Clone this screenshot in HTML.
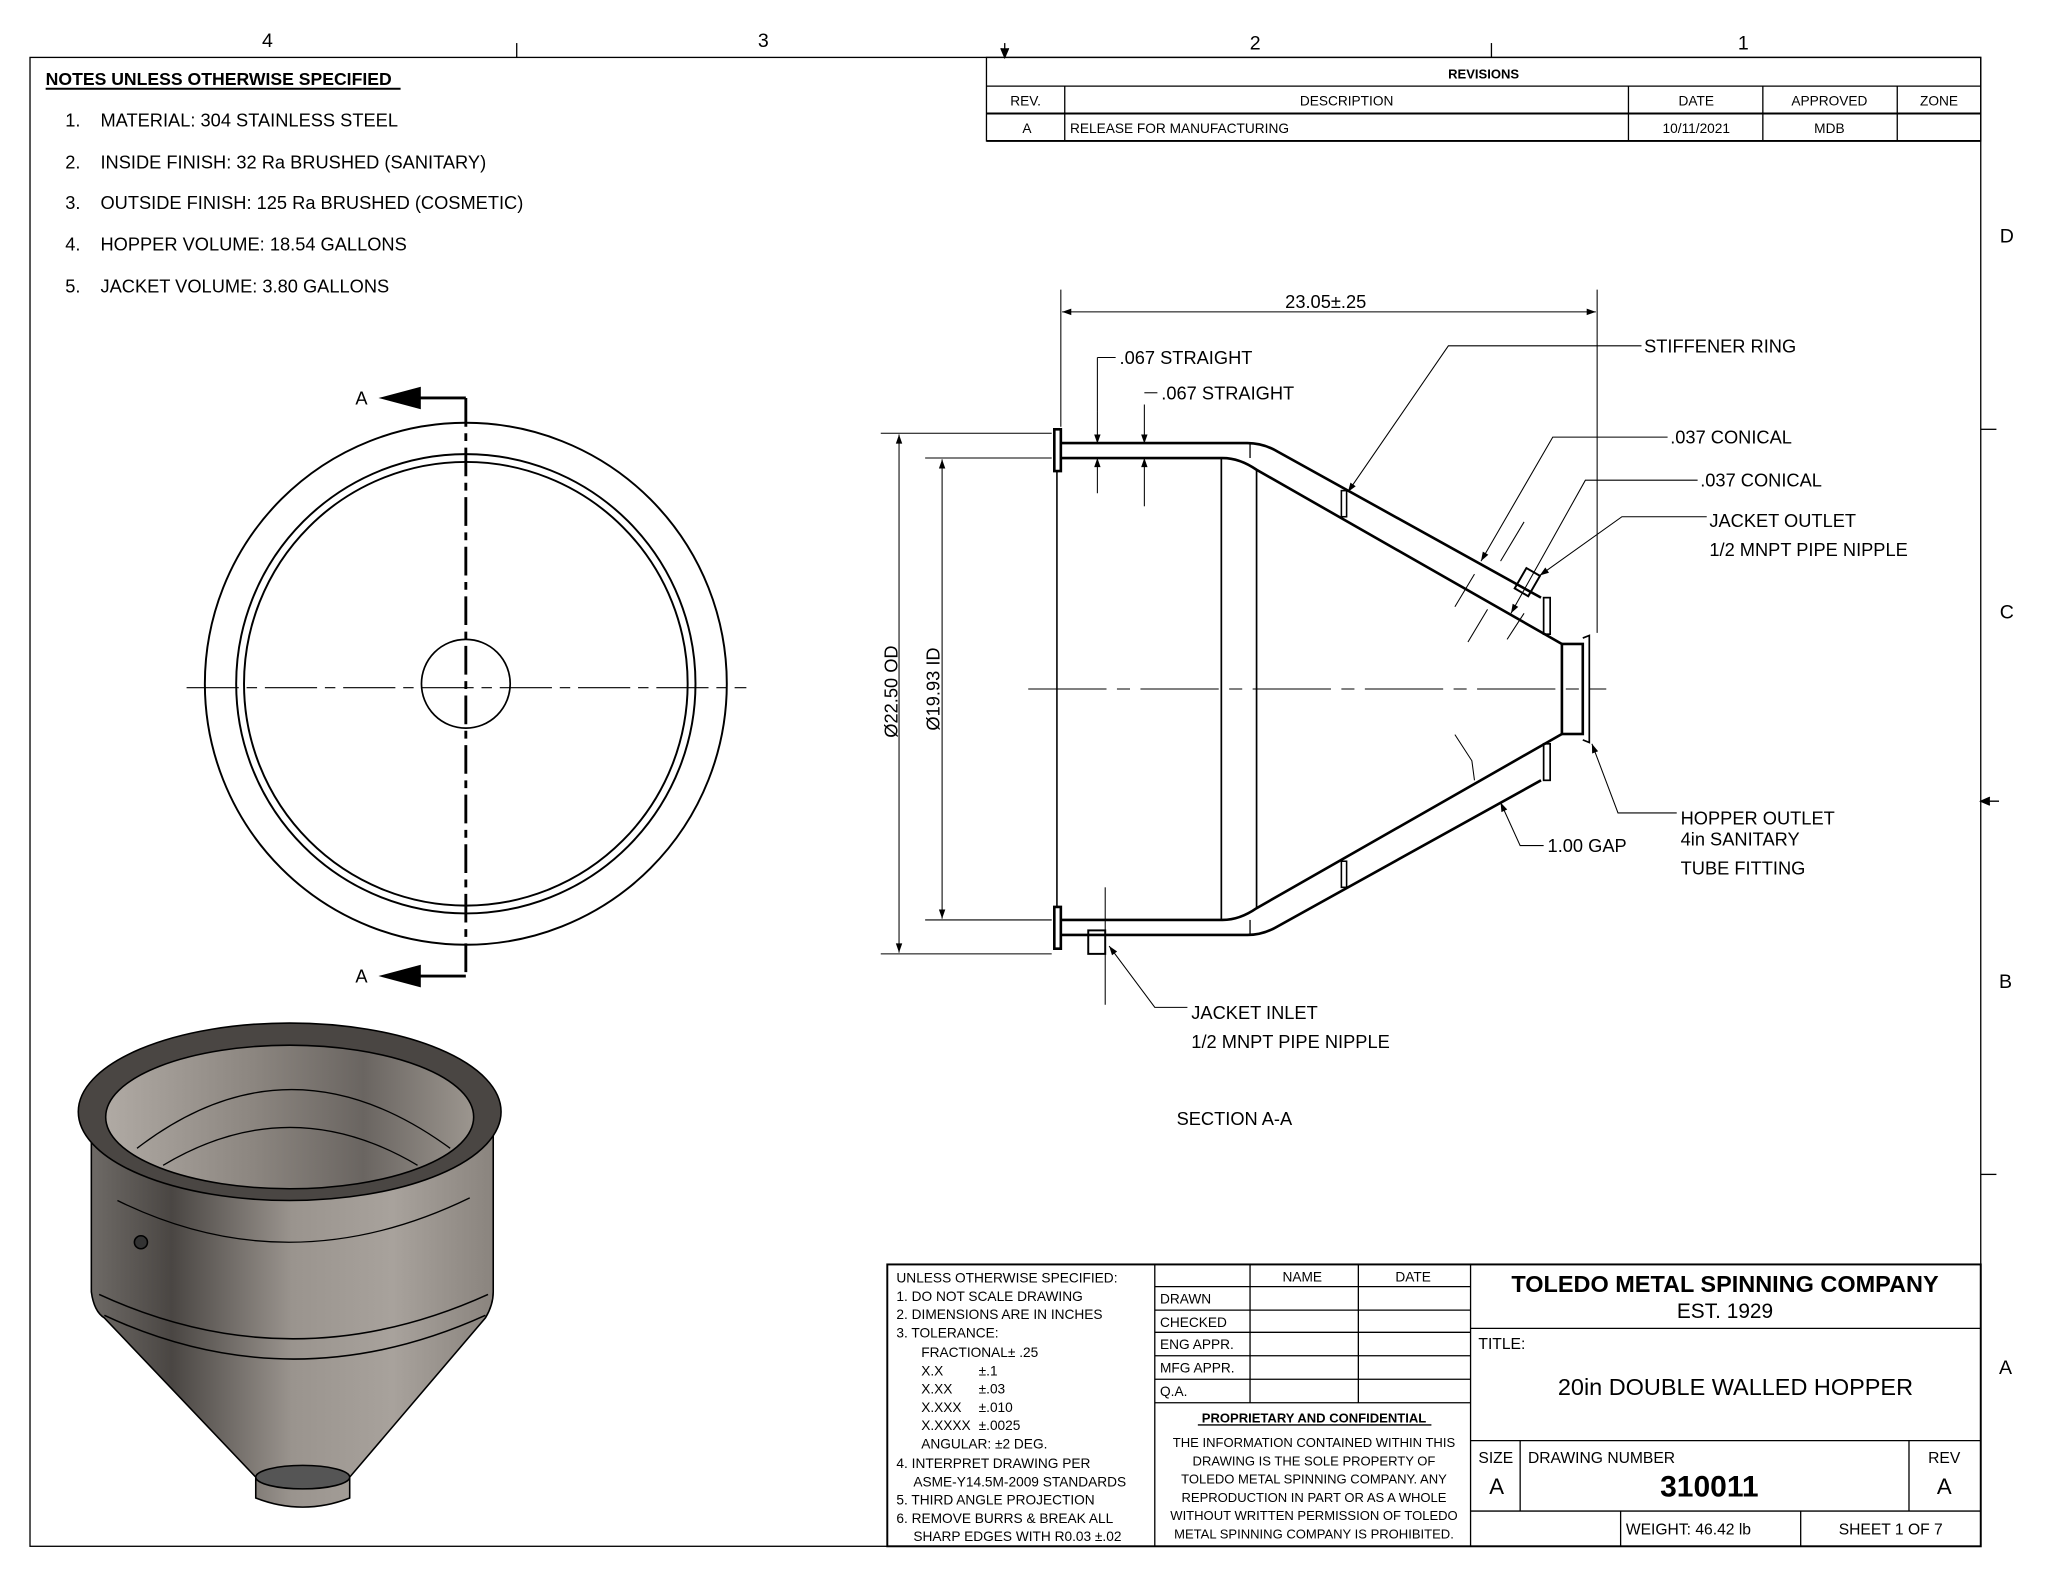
<!DOCTYPE html>
<html><head><meta charset="utf-8"><style>
html,body{margin:0;padding:0;background:#fff;}
svg{display:block;}
text{font-family:"Liberation Sans",sans-serif;fill:#000;}
</style></head><body>
<svg width="2046" height="1581" viewBox="0 0 1568 1211.6" preserveAspectRatio="none" xmlns="http://www.w3.org/2000/svg">
<defs>
<marker id="ar" viewBox="0 0 10 10" refX="10" refY="5" markerWidth="9" markerHeight="7" orient="auto-start-reverse" markerUnits="userSpaceOnUse"><path d="M0,1.5 L10,5 L0,8.5z" fill="#000"/></marker>
<linearGradient id="body" x1="0" x2="1" y1="0" y2="0">
<stop offset="0" stop-color="#6e6a66"/><stop offset="0.2" stop-color="#4a4643"/><stop offset="0.5" stop-color="#9a948e"/><stop offset="0.75" stop-color="#a8a29c"/><stop offset="1" stop-color="#8a847e"/></linearGradient>
<linearGradient id="inner" x1="0" x2="1"><stop offset="0" stop-color="#b0aaa4"/><stop offset="0.4" stop-color="#8c8680"/><stop offset="0.7" stop-color="#6a6561"/><stop offset="1" stop-color="#9c968f"/></linearGradient>
</defs>
<g fill="none" stroke="#000" stroke-width="1">
<rect x="23" y="44" width="1495" height="1141"/>
<line x1="396" y1="33" x2="396" y2="44"/><line x1="1143" y1="33" x2="1143" y2="44"/>
<line x1="770" y1="33" x2="770" y2="44"/><path d="M767,37 L770,44 L773,37" fill="#000"/>
<line x1="1518" y1="329" x2="1530" y2="329"/><line x1="1518" y1="900" x2="1530" y2="900"/>
<line x1="1518" y1="614" x2="1532" y2="614"/><path d="M1525,611 L1518,614 L1525,617" fill="#000"/>
<rect x="756" y="44" width="762" height="64"/>
<line x1="756" y1="66" x2="1518" y2="66"/><line x1="756" y1="87" x2="1518" y2="87" stroke-width="1.5"/>
<line x1="756" y1="108" x2="1518" y2="108" stroke-width="1.5"/>
<line x1="816" y1="66" x2="816" y2="108"/><line x1="1248" y1="66" x2="1248" y2="108"/>
<line x1="1351" y1="66" x2="1351" y2="108"/><line x1="1454" y1="66" x2="1454" y2="108"/>
<line x1="35" y1="68" x2="307" y2="68" stroke-width="1.5"/>
<circle cx="357" cy="524" r="200" stroke-width="1.5"/>
<circle cx="357" cy="524" r="176" stroke-width="1.5"/>
<circle cx="357" cy="524" r="170" stroke-width="1.5"/>
<circle cx="357" cy="524" r="34" stroke-width="1.3"/>
<line x1="143" y1="527" x2="572" y2="527" stroke-dasharray="40,6,8,6" stroke-width="0.8"/>
<line x1="357" y1="305" x2="357" y2="748" stroke-dasharray="22,5,6,5" stroke-width="2.2"/>
<line x1="357" y1="305" x2="310" y2="305" stroke-width="2.2"/><path d="M292,305 L322,297 L322,313z" fill="#000"/>
<line x1="357" y1="748" x2="310" y2="748" stroke-width="2.2"/><path d="M292,748 L322,740 L322,756z" fill="#000"/>
<g stroke-width="2">
<path d="M808,329 L813,329 L813,361 L808,361z"/>
<path d="M808,695 L813,695 L813,727 L808,727z"/>
<line x1="810" y1="361" x2="810" y2="695" stroke-width="1.2"/>
<path d="M813,339.5 L956,339.5 Q968,339.5 979,346 L1181,458"/>
<path d="M813,351 L937,351 Q950,351 963,360 L1197,493.5"/>
<path d="M813,716.5 L956,716.5 Q968,716.5 979,710 L1181,598"/>
<path d="M813,705 L937,705 Q950,705 963,696 L1197,562.5"/>
<rect x="1183" y="458" width="5" height="28" stroke-width="1.3"/>
<rect x="1183" y="570" width="5" height="28" stroke-width="1.3"/>
<rect x="1197" y="493.5" width="16" height="69"/>
<path d="M1213,489 L1218,487 L1218,569 L1213,567" stroke-width="1.3"/>
<rect x="1028" y="376" width="4" height="20" stroke-width="1.2"/>
<rect x="1028" y="660" width="4" height="20" stroke-width="1.2"/>
<rect x="834" y="713" width="13" height="18" stroke-width="1.5"/>
<g transform="translate(1170,447) rotate(30)"><rect x="-6" y="-10" width="12" height="18" stroke-width="1.5"/></g>
</g>
<line x1="936" y1="351" x2="936" y2="705" stroke-width="1.3"/>
<line x1="963" y1="360" x2="963" y2="696" stroke-width="1.3"/>
<line x1="958" y1="340" x2="958" y2="351" stroke-width="1"/>
<line x1="958" y1="705" x2="958" y2="716" stroke-width="1"/>
<line x1="788" y1="528" x2="1231" y2="528" stroke-dasharray="60,8,10,8" stroke-width="0.8"/>
<line x1="675" y1="332" x2="806" y2="332" stroke-width="0.8"/><line x1="675" y1="731" x2="806" y2="731" stroke-width="0.8"/>
<line x1="689" y1="333" x2="689" y2="730" marker-start="url(#ar)" marker-end="url(#ar)" stroke-width="0.8"/>
<line x1="709" y1="351" x2="806" y2="351" stroke-width="0.8"/><line x1="709" y1="705" x2="806" y2="705" stroke-width="0.8"/>
<line x1="722" y1="352" x2="722" y2="704" marker-start="url(#ar)" marker-end="url(#ar)" stroke-width="0.8"/>
<line x1="813" y1="222" x2="813" y2="327" stroke-width="0.8"/><line x1="1224" y1="222" x2="1224" y2="485" stroke-width="0.8"/>
<line x1="814" y1="239" x2="1223" y2="239" marker-start="url(#ar)" marker-end="url(#ar)" stroke-width="0.8"/>
<line x1="841" y1="315" x2="841" y2="340" marker-end="url(#ar)" stroke-width="0.8"/>
<line x1="841" y1="378" x2="841" y2="351" marker-end="url(#ar)" stroke-width="0.8"/>
<line x1="841" y1="274" x2="841" y2="315" stroke-width="0.8"/><line x1="841" y1="274" x2="855" y2="274" stroke-width="0.8"/>
<line x1="877" y1="310" x2="877" y2="340" marker-end="url(#ar)" stroke-width="0.8"/>
<line x1="877" y1="388" x2="877" y2="351" marker-end="url(#ar)" stroke-width="0.8"/>
<line x1="877" y1="301" x2="887" y2="301" stroke-width="0.8"/>
<polyline points="1258,265 1110,265 1033,377" marker-end="url(#ar)" stroke-width="0.8"/>
<polyline points="1278,335 1190,335 1135,430" marker-end="url(#ar)" stroke-width="0.8"/>
<polyline points="1301,368 1215,368 1158,470" marker-end="url(#ar)" stroke-width="0.8"/>
<line x1="1130" y1="440" x2="1115" y2="465" stroke-width="0.8"/><line x1="1168" y1="470" x2="1155" y2="490" stroke-width="0.8"/>
<line x1="1140" y1="467" x2="1125" y2="492" stroke-width="0.8"/><line x1="1168" y1="400" x2="1150" y2="430" stroke-width="0.8"/>
<polyline points="1308,396 1243,396 1180,441" marker-end="url(#ar)" stroke-width="0.8"/>
<polyline points="1285,623 1240,623 1220,570" marker-end="url(#ar)" stroke-width="0.8"/>
<polyline points="1183,648 1165,648 1150,615" marker-end="url(#ar)" stroke-width="0.8"/>
<polyline points="1115,563 1128,583 1130,598" stroke-width="0.8"/>
<polyline points="910,772 885,772 850,725" marker-end="url(#ar)" stroke-width="0.8"/>
<line x1="847" y1="680" x2="847" y2="770" stroke-width="0.8"/>
<rect x="680" y="969" width="838" height="216" stroke-width="1.5"/>
<line x1="885" y1="969" x2="885" y2="1185"/><line x1="1127" y1="969" x2="1127" y2="1185"/>
<line x1="958" y1="969" x2="958" y2="1075"/><line x1="1041" y1="969" x2="1041" y2="1075"/>
<line x1="885" y1="986" x2="1127" y2="986"/><line x1="885" y1="1004" x2="1127" y2="1004"/>
<line x1="885" y1="1021" x2="1127" y2="1021"/><line x1="885" y1="1039" x2="1127" y2="1039"/>
<line x1="885" y1="1057" x2="1127" y2="1057"/><line x1="885" y1="1075" x2="1127" y2="1075"/>
<line x1="1127" y1="1018" x2="1518" y2="1018"/><line x1="1127" y1="1104" x2="1518" y2="1104"/>
<line x1="1127" y1="1158" x2="1518" y2="1158"/>
<line x1="1165" y1="1104" x2="1165" y2="1158"/><line x1="1463" y1="1104" x2="1463" y2="1158"/>
<line x1="1242" y1="1158" x2="1242" y2="1185"/><line x1="1380" y1="1158" x2="1380" y2="1185"/>
<line x1="918" y1="1092" x2="1097" y2="1092"/>
</g>
<g stroke="#000" stroke-width="1.2">
<path d="M70,870 L70,990 Q72,1005 80,1010 L196,1132 L196,1148 Q232,1162 268,1148 L268,1132 L372,1010 Q378,1000 378,990 L378,870z" fill="url(#body)"/>
<path d="M76,992 Q224,1060 374,992" fill="none"/>
<path d="M80,1008 Q224,1075 372,1008" fill="none"/>
<ellipse cx="232" cy="1132" rx="36" ry="9" fill="#555"/>
<ellipse cx="222" cy="852" rx="162" ry="68" fill="#4a4643"/>
<ellipse cx="222" cy="856" rx="141" ry="55" fill="url(#inner)"/>
<path d="M105,880 Q222,790 345,880" fill="none" stroke-width="1"/>
<path d="M125,893 Q222,835 320,893" fill="none" stroke-width="1"/>
<path d="M90,920 Q222,985 360,918" fill="none" stroke-width="1"/>
<circle cx="108" cy="952" r="5" fill="#333"/>
</g>
<g font-size="14">
<text x="205" y="36" text-anchor="middle" font-size="15">4</text>
<text x="585" y="36" text-anchor="middle" font-size="15">3</text>
<text x="962" y="38" text-anchor="middle" font-size="15">2</text>
<text x="1336" y="38" text-anchor="middle" font-size="15">1</text>
<text x="1538" y="186" text-anchor="middle" font-size="15">D</text>
<text x="1538" y="474" text-anchor="middle" font-size="15">C</text>
<text x="1537" y="757" text-anchor="middle" font-size="15">B</text>
<text x="1537" y="1053" text-anchor="middle" font-size="15">A</text>
<text x="35" y="65" font-weight="bold" font-size="13.5">NOTES UNLESS OTHERWISE SPECIFIED</text>
<text x="50" y="97">1.</text><text x="77" y="97">MATERIAL: 304 STAINLESS STEEL</text>
<text x="50" y="129">2.</text><text x="77" y="129">INSIDE FINISH: 32 Ra BRUSHED (SANITARY)</text>
<text x="50" y="160">3.</text><text x="77" y="160">OUTSIDE FINISH: 125 Ra BRUSHED (COSMETIC)</text>
<text x="50" y="192">4.</text><text x="77" y="192">HOPPER VOLUME: 18.54 GALLONS</text>
<text x="50" y="224">5.</text><text x="77" y="224">JACKET VOLUME: 3.80 GALLONS</text>
<text x="1137" y="60" text-anchor="middle" font-size="10" font-weight="bold">REVISIONS</text>
<g font-size="10.5">
<text x="786" y="81" text-anchor="middle">REV.</text><text x="1032" y="81" text-anchor="middle">DESCRIPTION</text>
<text x="1300" y="81" text-anchor="middle">DATE</text><text x="1402" y="81" text-anchor="middle">APPROVED</text><text x="1486" y="81" text-anchor="middle">ZONE</text>
<text x="787" y="102" text-anchor="middle">A</text><text x="820" y="102">RELEASE FOR MANUFACTURING</text>
<text x="1300" y="102" text-anchor="middle">10/11/2021</text><text x="1402" y="102" text-anchor="middle">MDB</text>
</g>
<text x="277" y="310" text-anchor="middle">A</text>
<text x="277" y="753" text-anchor="middle">A</text>
<text x="1016" y="236" text-anchor="middle">23.05±.25</text>
<text x="858" y="279">.067 STRAIGHT</text>
<text x="890" y="306">.067 STRAIGHT</text>
<text x="1260" y="270">STIFFENER RING</text>
<text x="1280" y="340">.037 CONICAL</text>
<text x="1303" y="373">.037 CONICAL</text>
<text x="1310" y="404">JACKET OUTLET</text>
<text x="1310" y="426">1/2 MNPT PIPE NIPPLE</text>
<text x="1288" y="632">HOPPER OUTLET</text>
<text x="1288" y="648">4in SANITARY</text>
<text x="1288" y="670">TUBE FITTING</text>
<text x="1186" y="653">1.00 GAP</text>
<text x="913" y="781">JACKET INLET</text>
<text x="913" y="803">1/2 MNPT PIPE NIPPLE</text>
<text x="946" y="862" text-anchor="middle">SECTION A-A</text>
<text transform="translate(688,530) rotate(-90)" text-anchor="middle">Ø22.50 OD</text>
<text transform="translate(720,528) rotate(-90)" text-anchor="middle">Ø19.93 ID</text>
</g>
<g font-size="10.5">
<text x="687" y="983">UNLESS OTHERWISE SPECIFIED:</text>
<text x="687" y="997">1. DO NOT SCALE DRAWING</text>
<text x="687" y="1011">2. DIMENSIONS ARE IN INCHES</text>
<text x="687" y="1025">3. TOLERANCE:</text>
<text x="706" y="1040">FRACTIONAL± .25</text>
<text x="706" y="1054">X.X</text><text x="750" y="1054">±.1</text>
<text x="706" y="1068">X.XX</text><text x="750" y="1068">±.03</text>
<text x="706" y="1082">X.XXX</text><text x="750" y="1082">±.010</text>
<text x="706" y="1096">X.XXXX</text><text x="750" y="1096">±.0025</text>
<text x="706" y="1110">ANGULAR: ±2 DEG.</text>
<text x="687" y="1125">4. INTERPRET DRAWING PER</text>
<text x="700" y="1139">ASME-Y14.5M-2009 STANDARDS</text>
<text x="687" y="1153">5. THIRD ANGLE PROJECTION</text>
<text x="687" y="1167">6. REMOVE BURRS &amp; BREAK ALL</text>
<text x="700" y="1181">SHARP EDGES WITH R0.03 ±.02</text>
<text x="998" y="982" text-anchor="middle">NAME</text><text x="1083" y="982" text-anchor="middle">DATE</text>
<text x="889" y="999">DRAWN</text><text x="889" y="1017">CHECKED</text><text x="889" y="1034">ENG APPR.</text>
<text x="889" y="1052">MFG APPR.</text><text x="889" y="1070">Q.A.</text>
<text x="1007" y="1090" text-anchor="middle" font-weight="bold" font-size="10">PROPRIETARY AND CONFIDENTIAL</text>
<g text-anchor="middle" font-size="10">
<text x="1007" y="1109">THE INFORMATION CONTAINED WITHIN THIS</text>
<text x="1007" y="1123">DRAWING IS THE SOLE PROPERTY OF</text>
<text x="1007" y="1137">TOLEDO METAL SPINNING COMPANY.  ANY</text>
<text x="1007" y="1151">REPRODUCTION IN PART OR AS A WHOLE</text>
<text x="1007" y="1165">WITHOUT WRITTEN PERMISSION OF TOLEDO</text>
<text x="1007" y="1179">METAL SPINNING COMPANY IS PROHIBITED.</text>
</g>
</g>
<text x="1322" y="990" text-anchor="middle" font-size="18" font-weight="bold">TOLEDO METAL SPINNING COMPANY</text>
<text x="1322" y="1010" text-anchor="middle" font-size="16">EST. 1929</text>
<text x="1133" y="1034" font-size="12">TITLE:</text>
<text x="1330" y="1069" text-anchor="middle" font-size="18">20in DOUBLE WALLED HOPPER</text>
<text x="1133" y="1121" font-size="12">SIZE</text>
<text x="1147" y="1145" text-anchor="middle" font-size="17">A</text>
<text x="1171" y="1121" font-size="12">DRAWING NUMBER</text>
<text x="1310" y="1147" text-anchor="middle" font-size="23" font-weight="bold">310011</text>
<text x="1490" y="1121" text-anchor="middle" font-size="12">REV</text>
<text x="1490" y="1145" text-anchor="middle" font-size="17">A</text>
<text x="1246" y="1176" font-size="12">WEIGHT: 46.42 lb</text>
<text x="1449" y="1176" text-anchor="middle" font-size="12">SHEET 1 OF 7</text>
</svg>
</body></html>
